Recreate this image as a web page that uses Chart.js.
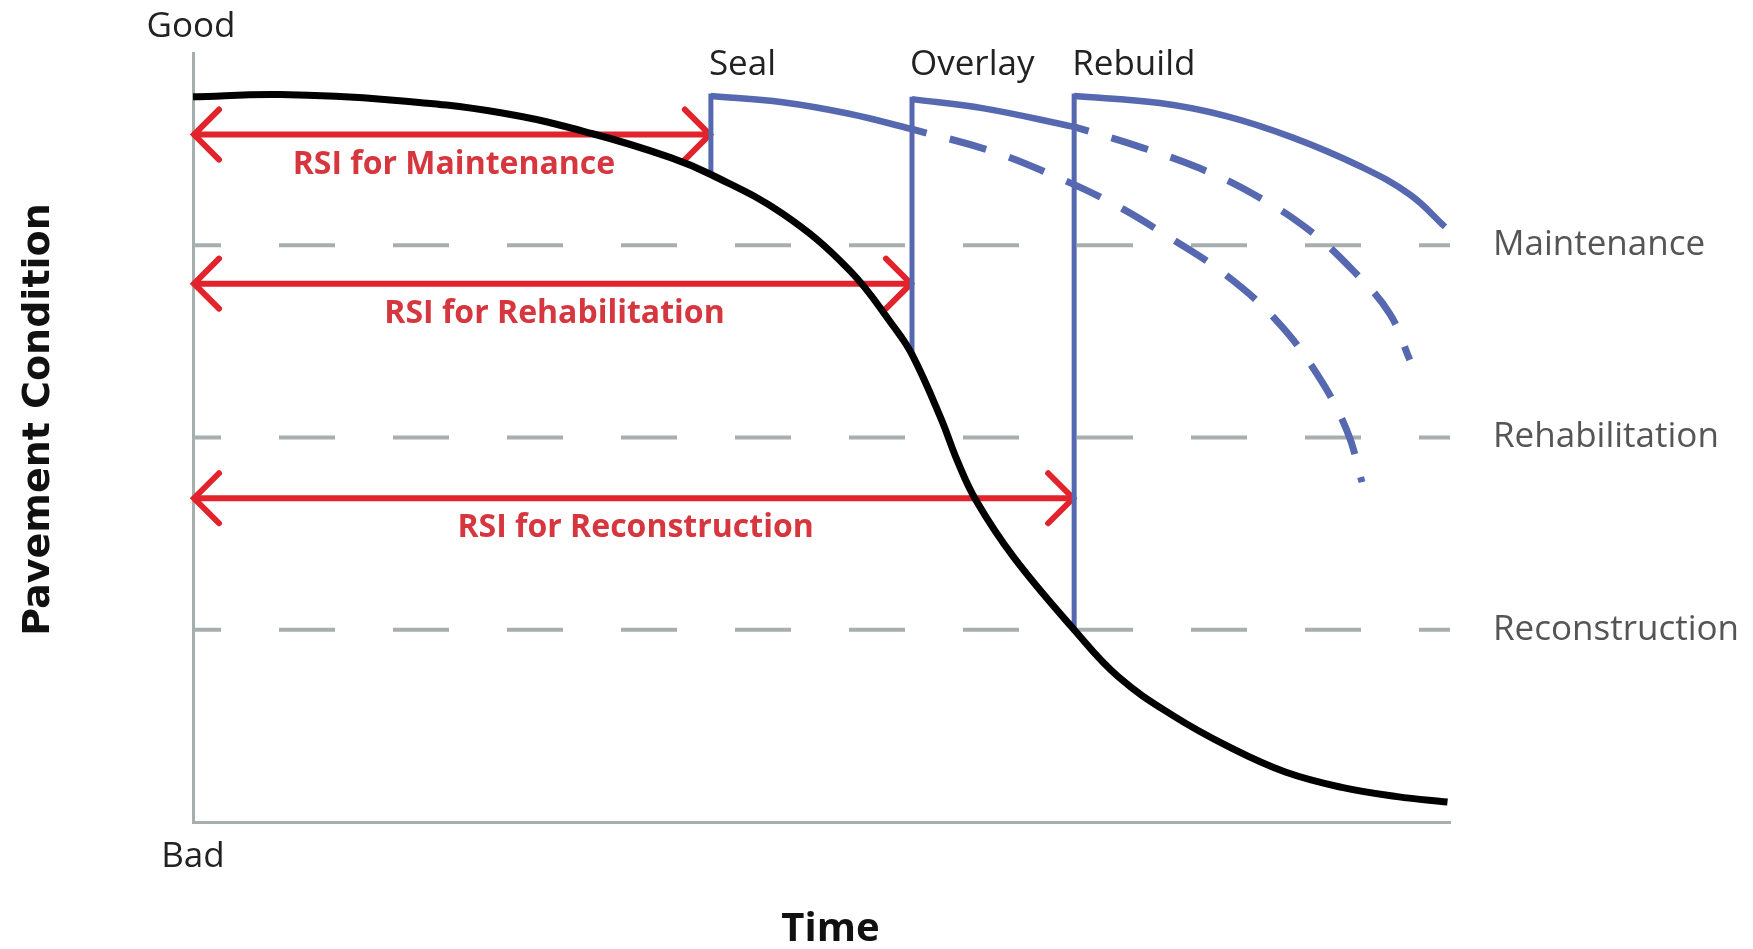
<!DOCTYPE html>
<html>
<head>
<meta charset="utf-8">
<script src="https://cdn.jsdelivr.net/npm/chart.js@4.4.0/dist/chart.umd.min.js"></script>
<style>
  html, body { margin: 0; padding: 0; background: #fff; }
</style>
</head>
<body>
<canvas id="myChart" width="1753" height="949"></canvas>
<script>
// time runs 0..100, condition runs 0 (bad) .. 100 (good)
var conditionTime = [0, 6.9, 15.7, 24.6, 31.8, 38, 41.2, 46.9, 52.2, 55.8, 57.2, 59.5, 60.8, 62.3, 65.3, 70.1, 73.6, 78, 82.5, 86.9, 91.4, 95.8, 99.8]
var conditionValue = [94.3, 94.6, 93.9, 92.2, 89.5, 86.4, 84.2, 79.1, 71.8, 64.3, 60.8, 52.5, 47, 41.8, 34.4, 25, 18.9, 13.8, 9.7, 6.5, 4.5, 3.3, 2.6]

var treatments = ['Seal', 'Overlay', 'Rebuild']
var treatmentTime = [41.2, 57.2, 70.1]
var treatmentFrom = [84.2, 60.8, 25]
var treatmentTo = [94.4, 94, 94.4]

var sealTime = [41.2, 46.9, 52.2, 57.2]
var sealValue = [94.4, 93.6, 92.1, 90.1]
var overlayTime = [57.2, 62.9, 70.1]
var overlayValue = [94, 92.8, 90.4]
var rebuildTime = [70.1, 76.9, 82.2, 87.5, 92.8, 96.8, 99.6]
var rebuildValue = [94.4, 93.5, 91.8, 89, 85.3, 81.6, 77.4]

// what happens if the next treatment is skipped
var sealOnlyTime = [57.2, 63.4, 68.4, 73.2, 77.7, 82.2, 86.2, 89.4, 91.8, 93]
var sealOnlyValue = [90.1, 87.3, 84.1, 80.4, 76, 71.1, 65.2, 58.3, 50.9, 44.2]
var overlayOnlyTime = [70.1, 75.5, 80.1, 84.3, 88.6, 92.3, 95.2, 96.8]
var overlayOnlyValue = [90.4, 87.7, 85, 81.7, 77.2, 71.7, 66.1, 60.1]

var levelNames = ['Maintenance', 'Rehabilitation', 'Reconstruction']
var levelValue = [75, 50, 25]

var rsiNames = ['RSI for Maintenance', 'RSI for Rehabilitation', 'RSI for Reconstruction']
var rsiValue = [89.4, 70, 42.1]

var blue = '#5568b0', red = '#e2232b', grey = '#a6aeae'

function pts(xs, ys) {
    return xs.map(function (x, i) { return { x: x, y: ys[i] } })
}

var datasets = []
datasets.push({ data: pts(conditionTime, conditionValue), borderColor: '#000', borderWidth: 7, tension: 0.4 })
treatments.forEach(function (t, i) {
    datasets.push({ data: [{ x: treatmentTime[i], y: treatmentFrom[i] }, { x: treatmentTime[i], y: treatmentTo[i] }], borderColor: blue, borderWidth: 5, borderCapStyle: 'square' })
})
datasets.push({ data: pts(sealTime, sealValue), borderColor: blue, borderWidth: 6.5, tension: 0.4 })
datasets.push({ data: pts(overlayTime, overlayValue), borderColor: blue, borderWidth: 6.5, tension: 0.4 })
datasets.push({ data: pts(rebuildTime, rebuildValue), borderColor: blue, borderWidth: 6.5, tension: 0.4 })
datasets.push({ data: pts(sealOnlyTime, sealOnlyValue), borderColor: blue, borderWidth: 7, borderDash: [38, 24], borderDashOffset: 23, tension: 0.4 })
datasets.push({ data: pts(overlayOnlyTime, overlayOnlyValue), borderColor: blue, borderWidth: 7, borderDash: [38, 24], borderDashOffset: 23, tension: 0.4 })
rsiValue.forEach(function (v, i) {
    datasets.push({ data: [{ x: 0, y: v }, { x: treatmentTime[i], y: v }], borderColor: red, borderWidth: 6 })
})
levelValue.forEach(function (v) {
    datasets.push({ data: [{ x: 0, y: v }, { x: 100, y: v }], borderColor: grey, borderWidth: 4, borderDash: [56, 58], borderDashOffset: 28 })
})
datasets.forEach(function (d) { d.pointRadius = 0; d.fill = false })

var decorations = {
    id: 'decorations',
    beforeDatasetsDraw: function (chart) {
        // arrow heads
        var ctx = chart.ctx, xs = chart.scales.x, ys = chart.scales.y
        ctx.save()
        ctx.strokeStyle = red
        ctx.lineWidth = 6
        ctx.lineCap = 'round'
        ctx.lineJoin = 'miter'
        rsiValue.forEach(function (v, i) {
            var py = ys.getPixelForValue(v)
            var x0 = xs.getPixelForValue(0), x1 = xs.getPixelForValue(treatmentTime[i])
            ctx.beginPath()
            ctx.moveTo(x0 + 26, py - 25); ctx.lineTo(x0 + 1, py); ctx.lineTo(x0 + 26, py + 25)
            ctx.moveTo(x1 - 26, py - 25); ctx.lineTo(x1 - 1, py); ctx.lineTo(x1 - 26, py + 25)
            ctx.stroke()
        })
        ctx.restore()
    },
    afterDraw: function (chart) {
        var ctx = chart.ctx, ca = chart.chartArea, xs = chart.scales.x, ys = chart.scales.y
        ctx.save()
        ctx.textBaseline = 'middle'
        ctx.fillStyle = '#222'
        ctx.font = '35px "Open Sans"'
        ctx.textAlign = 'center'
        ctx.fillText('Good', ca.left - 2, ca.top - 26)
        ctx.fillText('Bad', ca.left, ca.bottom + 35)
        ctx.textAlign = 'left'
        treatments.forEach(function (t, i) {
            ctx.fillText(t, xs.getPixelForValue(treatmentTime[i]) - 2, ca.top + 12)
        })
        ctx.fillStyle = '#d6363d'
        ctx.font = 'bold 32px "Open Sans"'
        ctx.textAlign = 'center'
        rsiNames.forEach(function (n, i) {
            var mid = (xs.getPixelForValue(0) + xs.getPixelForValue(treatmentTime[i])) / 2
            ctx.fillText(n, mid + 2, ys.getPixelForValue(rsiValue[i]) + 30)
        })
        ctx.fillStyle = '#111'
        ctx.font = 'bold 40px "Open Sans"'
        ctx.fillText('Time', (ca.left + ca.right) / 2 + 9, ca.bottom + 108)
        ctx.translate(39, (ca.top + ca.bottom) / 2 - 18)
        ctx.rotate(-Math.PI / 2)
        ctx.font = 'bold 38px "DejaVu Sans"'
        ctx.fillText('Pavement Condition', 0, 0)
        ctx.restore()
    }
}

var ctx = document.getElementById('myChart').getContext('2d')
var myChart = new Chart(ctx, {
    type: 'line',
    data: { datasets: datasets },
    options: {
        responsive: false,
        animation: false,
        devicePixelRatio: 1,
        layout: { padding: { top: 53, left: 0, right: 0, bottom: 0 } },
        plugins: { legend: { display: false }, tooltip: { enabled: false } },
        elements: { line: { tension: 0 } },
        scales: {
            x: {
                type: 'linear', min: 0, max: 100,
                grid: { display: false, drawTicks: false },
                border: { display: true, color: grey, width: 3 },
                ticks: { display: false },
                afterFit: function (s) { s.height = 127 }
            },
            y: {
                type: 'linear', min: 0, max: 100, position: 'left',
                grid: { display: false, drawTicks: false },
                border: { display: true, color: grey, width: 3 },
                ticks: { display: false },
                afterFit: function (s) { s.width = 193 }
            },
            y2: {
                type: 'linear', min: 0, max: 100, position: 'right',
                // tick marks hidden, their length only sets the gap before the labels
                grid: { display: false, drawTicks: true, tickLength: 43 },
                border: { display: false },
                afterBuildTicks: function (s) { s.ticks = levelValue.map(function (v) { return { value: v } }) },
                ticks: {
                    autoSkip: false,
                    padding: 0,
                    color: '#555',
                    font: { family: 'Open Sans', size: 35 },
                    callback: function (v) { return levelNames[levelValue.indexOf(v)] }
                },
                afterFit: function (s) { s.width = 303 }
            }
        }
    },
    plugins: [decorations]
})
</script>
</body>
</html>
